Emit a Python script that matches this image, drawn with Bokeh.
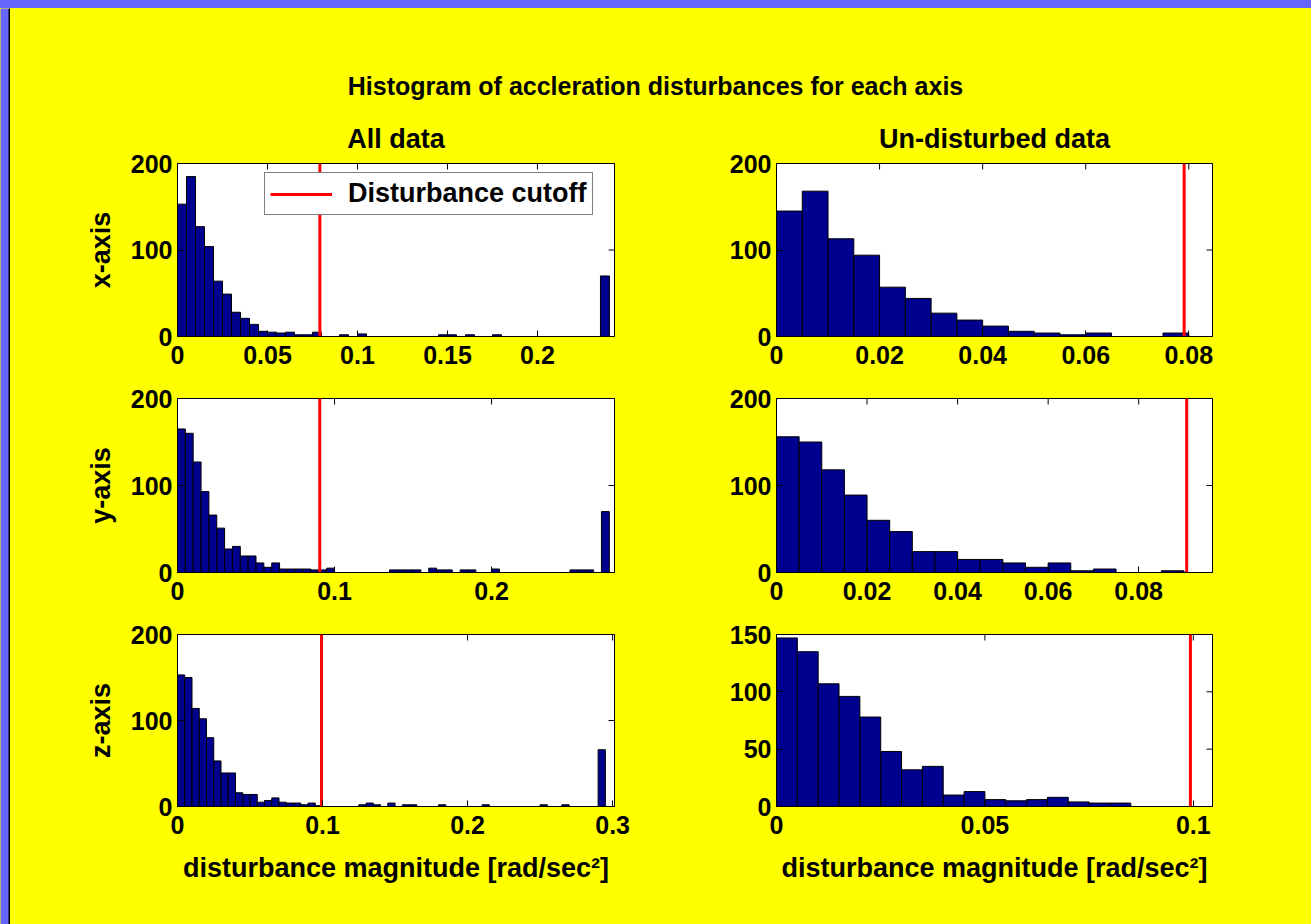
import math

from bokeh.plotting import figure
from bokeh.layouts import column, row
from bokeh.models import Range1d, FixedTicker, Legend, LegendItem
from bokeh.core.properties import value
from bokeh.embed import file_html
from bokeh.resources import INLINE

# ---------------------------------------------------------------- data
BIN_WIDTH = 0.005  # histogram bin width [rad/sec^2]

main_title = "Histogram of accleration disturbances for each axis"
col_titles = ["All data", "Un-disturbed data"]
row_labels = ["x-axis", "y-axis", "z-axis"]
x_label = "disturbance magnitude [rad/sec\u00b2]"
legend_label = "Disturbance cutoff"

# disturbance cutoff per axis (x, y, z)
cutoffs = [0.0791, 0.0906, 0.0993]

# histogram counts, one entry per bin starting at 0
x_all_counts = [153, 185, 127, 104, 64, 49, 28, 21, 14, 6, 5, 4, 5, 2, 2, 5,
                0, 0, 2, 0, 3, 0, 0, 0, 0, 0, 0, 0, 0, 2, 2, 0,
                2, 0, 0, 2, 0, 0, 0, 0, 0, 0, 0, 0, 0, 0, 0, 70]
x_undist_counts = [145, 168, 113, 94, 57, 44, 27, 19, 12, 6, 4, 2, 4, 0, 0, 4]

y_all_counts = [165, 160, 127, 93, 66, 51, 27, 30, 19, 19, 11, 6, 11, 4, 4, 4,
                4, 3, 3, 5, 0, 0, 0, 0, 0, 0, 0, 3, 3, 3, 3, 0,
                5, 3, 3, 0, 3, 3, 0, 0, 4, 0, 0, 0, 0, 0, 0, 0,
                0, 0, 3, 3, 3, 0, 70]
y_undist_counts = [156, 150, 118, 89, 60, 47, 24, 24, 15, 15, 11, 6, 11, 2, 4, 0, 0, 2]

z_all_counts = [153, 150, 114, 102, 80, 53, 39, 39, 16, 14, 14, 5, 7, 10, 5, 4,
                4, 2, 4, 1, 0, 0, 0, 0, 0, 2, 4, 2, 0, 4, 0, 2,
                2, 0, 0, 0, 2, 0, 0, 0, 0, 0, 2, 0, 0, 0, 0, 0,
                0, 0, 2, 0, 0, 2, 0, 0, 0, 0, 66]
z_undist_counts = [147, 135, 107, 96, 78, 48, 32, 35, 10, 13, 6, 5, 6, 8, 4, 3, 3, 0, 0, 0]

# axis limits (x max, y max) per panel
x_max = [[0.2428, 0.0846], [0.2783, 0.0963], [0.3013, 0.1046]]
y_max = [[200, 200], [200, 200], [200, 150]]

# tick values and labels
x_ticks = [[[0, 0.05, 0.1, 0.15, 0.2], [0, 0.02, 0.04, 0.06, 0.08]],
           [[0, 0.1, 0.2], [0, 0.02, 0.04, 0.06, 0.08]],
           [[0, 0.1, 0.2, 0.3], [0, 0.05, 0.1]]]
x_tick_labels = [[["0", "0.05", "0.1", "0.15", "0.2"], ["0", "0.02", "0.04", "0.06", "0.08"]],
                 [["0", "0.1", "0.2"], ["0", "0.02", "0.04", "0.06", "0.08"]],
                 [["0", "0.1", "0.2", "0.3"], ["0", "0.05", "0.1"]]]
y_ticks = [[[0, 100, 200], [0, 100, 200]],
           [[0, 100, 200], [0, 100, 200]],
           [[0, 100, 200], [0, 50, 100, 150]]]
y_tick_labels = [[["0", "100", "200"], ["0", "100", "200"]],
                 [["0", "100", "200"], ["0", "100", "200"]],
                 [["0", "100", "200"], ["0", "50", "100", "150"]]]

counts = [[x_all_counts, x_undist_counts],
          [y_all_counts, y_undist_counts],
          [z_all_counts, z_undist_counts]]

# ---------------------------------------------------------------- style
FONT = "Liberation Sans"
TICK_SIZE = "25px"
LABEL_SIZE = "27px"
YELLOW = "#FFFF00"
BLUE = "#6666FF"
BAR_COLOR = "#00008F"
FILL_STYLE = {"background-color": YELLOW}

# figure geometry: widths of columns and heights of rows, with borders
col_geom = [dict(width=685, left=167, right=81), dict(width=616, left=81, right=99)]
row_geom = [dict(height=272, top=55, bottom=44),
            dict(height=236, top=18, bottom=44),
            dict(height=308, top=18, bottom=118)]


def style_axis(ax, ticks, labels, standoff):
    ax.ticker = FixedTicker(ticks=ticks)
    ax.major_label_overrides = dict(zip(ticks, labels))
    ax.major_tick_in = 6
    ax.major_tick_out = 0
    ax.minor_tick_line_color = None
    ax.axis_line_color = "black"
    ax.major_tick_line_color = "black"
    ax.major_label_text_font = FONT
    ax.major_label_text_font_style = "bold"
    ax.major_label_text_color = "black"
    ax.major_label_text_font_size = TICK_SIZE
    ax.major_label_standoff = standoff
    ax.axis_label_text_font = FONT
    ax.axis_label_text_font_size = LABEL_SIZE
    ax.axis_label_text_font_style = "bold"
    ax.axis_label_text_color = "black"


def make_panel(r, c):
    cg, rg = col_geom[c], row_geom[r]
    xm, ym = x_max[r][c], y_max[r][c]
    p = figure(width=cg["width"], height=rg["height"],
               x_range=Range1d(0, xm), y_range=Range1d(0, ym),
               output_backend="svg", toolbar_location=None,
               min_border_left=cg["left"], min_border_right=cg["right"],
               min_border_top=rg["top"], min_border_bottom=rg["bottom"],
               title=col_titles[c] if r == 0 else None)
    p.background_fill_color = "white"
    p.border_fill_color = YELLOW
    p.outline_line_color = "black"
    p.outline_line_width = 1
    p.grid.visible = False

    if r == 0:
        p.title.text_font = FONT
        p.title.text_font_size = LABEL_SIZE
        p.title.text_font_style = "bold"
        p.title.text_color = "black"
        p.title.align = "center"
        p.title.standoff = 19

    xax, yax = p.xaxis[0], p.yaxis[0]
    style_axis(xax, x_ticks[r][c], x_tick_labels[r][c], 9)
    style_axis(yax, y_ticks[r][c], y_tick_labels[r][c], 5)
    yax.axis_label_standoff = 12
    xax.axis_label_standoff = 16
    if c == 0:
        yax.axis_label = row_labels[r]
    if r == 2:
        xax.axis_label = x_label

    # histogram bars
    cts = counts[r][c]
    lefts = [i * BIN_WIDTH for i in range(len(cts))]
    rights = [lv + BIN_WIDTH for lv in lefts]
    p.quad(left=lefts, right=rights, bottom=0, top=cts,
           fill_color=BAR_COLOR, line_color="black", line_width=1)

    # inward tick marks on the top and right edges of the box
    p.scatter(x=x_ticks[r][c], y=[ym] * len(x_ticks[r][c]), marker="dash",
              angle=math.pi / 2, size=12, line_color="black", line_width=1)
    p.scatter(x=[xm] * len(y_ticks[r][c]), y=y_ticks[r][c], marker="dash",
              size=12, line_color="black", line_width=1)

    # cutoff line
    cut = cutoffs[r]
    line = p.line(x=[cut, cut], y=[0, ym], line_color="red", line_width=3)

    if r == 0 and c == 0:
        legend = Legend(items=[LegendItem(label=legend_label, renderers=[line])],
                        location=(87, 121))
        legend.label_text_font = FONT
        legend.label_text_font_size = LABEL_SIZE
        legend.label_text_font_style = "bold"
        legend.label_text_color = "black"
        legend.padding = 5
        legend.glyph_width = 62
        legend.label_standoff = 16
        legend.border_line_color = "black"
        legend.border_line_width = 1
        legend.background_fill_color = "white"
        legend.background_fill_alpha = 1.0
        p.add_layout(legend)
    return p


def strip(width, height, black):
    s = figure(width=width, height=height, x_range=Range1d(0, width),
               y_range=Range1d(0, height), output_backend="svg",
               toolbar_location=None, x_axis_location=None, y_axis_location=None,
               min_border=0)
    s.background_fill_color = BLUE
    s.border_fill_color = BLUE
    s.outline_line_color = None
    s.grid.visible = False
    s.quad(left=black[0], right=black[1], bottom=black[2], top=black[3],
           fill_color="black", line_color=None)
    return s


# header holding the overall title
header = figure(width=1301, height=100, x_range=Range1d(0, 1301), y_range=Range1d(0, 100),
                output_backend="svg", toolbar_location=None,
                x_axis_location=None, y_axis_location=None, min_border=0)
header.background_fill_color = YELLOW
header.border_fill_color = YELLOW
header.outline_line_color = None
header.grid.visible = False
header.text(x=[645], y=[23], text=[main_title], text_align="center",
            text_baseline="middle", text_font=value(FONT), text_font_size="25px",
            text_font_style="bold", text_color="black")

rows = [row(make_panel(r, 0), make_panel(r, 1), styles=FILL_STYLE) for r in range(3)]
inner = column(header, *rows, styles=FILL_STYLE)

top_strip = strip(1311, 8, (8, 1311, 0, 2))
left_strip = strip(10, 916, (8, 10, 0, 916))

page = column(top_strip, row(left_strip, inner, styles=FILL_STYLE),
              styles={"background-color": BLUE})

open("out.html", "w").write(file_html(page, INLINE))
